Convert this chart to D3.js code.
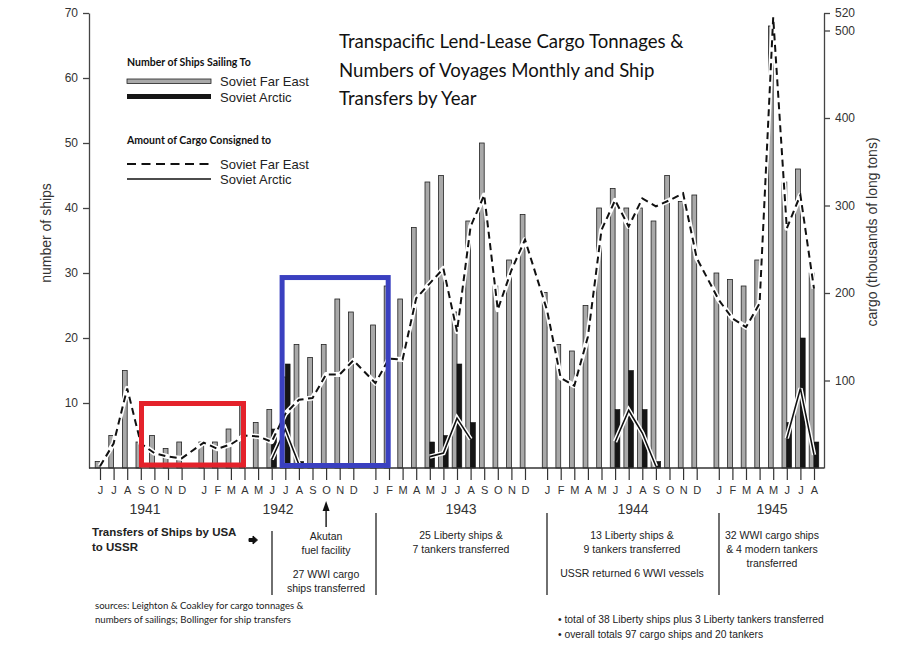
<!DOCTYPE html>
<html><head><meta charset="utf-8">
<script src="https://cdn.jsdelivr.net/npm/d3@7"></script>
<style>body{margin:0;background:#fff}svg{display:block}</style>
</head><body>
<svg id="c" width="897" height="653"></svg>
<script>
// ---------- DATA (Jun 1941 .. Aug 1945, one entry per month) ----------
const monthLetters = ["J","F","M","A","M","J","J","A","S","O","N","D"];
const firstYear = 1941, firstMonth = 5; // June
const farEastShips = [1,5,15,4,5,3,4,
  4,4,6,10,7,9,14,19,17,19,26,24,
  22,28,26,37,44,45,24,38,50,28,32,39,
  27,19,18,25,40,43,40,40,38,45,41,42,
  30,29,28,32,68,44,46,30];
const arcticShips = [0,0,0,0,0,0,0,
  0,0,0,0,0,6,16,1,0,0,0,0,
  0,0,0,0,4,5,16,7,0,0,0,0,
  0,0,0,0,0,9,15,9,1,0,0,0,
  0,0,0,0,0,7,20,4];
const farEastCargo = [2,28,91,28,17,13,11,
  29,22,27,37,36,30,62,78,80,107,107,123,
  97,125,124,194,211,228,156,276,312,181,226,261,
  180,103,94,150,272,306,276,308,299,306,314,240,
  192,171,161,188,515,274,312,205];
const arcticCargo = [null,null,null,null,null,null,null,
  null,null,null,null,null,10,44,4,null,null,null,null,
  null,null,null,null,13,17,57,33,null,null,null,null,
  null,null,null,null,null,30,66,40,2,null,null,null,
  null,null,null,null,null,34,91,15];
const leftTicks = [10,20,30,40,50,60,70];
const rightTicks = [100,200,300,400,500,520];
const yearLabels = ["1941","1942","1943","1944","1945"];

// ---------- SETUP ----------
const months = farEastShips.map((v,i)=>{
  const t = firstMonth + i;
  return {i, year: firstYear + Math.floor(t/12), m: t%12};
});
const pos = d => d.i + 0.625*(d.year - firstYear);
const svg = d3.select("#c");
const x = d3.scaleLinear().domain([0,52.5]).range([100,814]);
const yL = d3.scaleLinear().domain([0,70]).range([468,13]);
const yR = d3.scaleLinear().domain([0,520]).range([468,13]);
const SANS = "'Liberation Sans', Arial, Helvetica, sans-serif";
const CAL = "Lato, 'Open Sans', sans-serif";

// ---------- BARS ----------
const bw = 4.8;
svg.append("g").selectAll("rect").data(months).join("rect")
  .attr("x", d=>x(pos(d))-bw).attr("width", bw)
  .attr("y", d=>yL(farEastShips[d.i])).attr("height", d=>yL(0)-yL(farEastShips[d.i]))
  .attr("fill","#a9a9a9").attr("stroke","#222").attr("stroke-width",0.8);
svg.append("g").selectAll("rect").data(months.filter(d=>arcticShips[d.i]>0)).join("rect")
  .attr("x", d=>x(pos(d))).attr("width", bw)
  .attr("y", d=>yL(arcticShips[d.i])).attr("height", d=>yL(0)-yL(arcticShips[d.i]))
  .attr("fill","#151515").attr("stroke","#111").attr("stroke-width",0.6);

// ---------- LINES ----------
const feLine = d3.line().x(d=>x(pos(d))).y(d=>yR(farEastCargo[d.i]));
svg.append("path").attr("d", feLine(months)).attr("fill","none")
  .attr("stroke","#fff").attr("stroke-width",5).attr("stroke-linejoin","round");
svg.append("path").attr("d", feLine(months)).attr("fill","none")
  .attr("stroke","#111").attr("stroke-width",2).attr("stroke-dasharray","7,4.5");
const arLine = d3.line().defined(d=>arcticCargo[d.i]!=null)
  .x(d=>x(pos(d))).y(d=>yR(arcticCargo[d.i]));
svg.append("path").attr("d", arLine(months)).attr("fill","none")
  .attr("stroke","#fff").attr("stroke-width",4.5).attr("stroke-linejoin","miter");
svg.append("path").attr("d", arLine(months)).attr("fill","none")
  .attr("stroke","#111").attr("stroke-width",1.6);

// ---------- AXES ----------
const axL = svg.append("g").attr("transform","translate(89,0)")
  .call(d3.axisLeft(yL).tickValues(leftTicks).tickSize(6).tickSizeOuter(0).tickPadding(5));
const axR = svg.append("g").attr("transform","translate(824,0)")
  .call(d3.axisRight(yR).tickValues(rightTicks).tickSize(6).tickSizeOuter(0).tickPadding(5));
[axL,axR].forEach(a=>{
  a.selectAll("path,line").attr("stroke","#444").attr("stroke-width",1.3);
  a.selectAll("text").attr("font-family",SANS).attr("font-size",12).attr("fill","#333");
});
svg.append("line").attr("x1",89).attr("x2",824).attr("y1",yL(0)).attr("y2",yL(0))
  .attr("stroke","#333").attr("stroke-width",1.4);
const axB = svg.append("g").attr("transform",`translate(0,${yL(0)})`)
  .call(d3.axisBottom(x).tickValues(months.map(pos)).tickSize(12).tickSizeOuter(0).tickPadding(6)
    .tickFormat((v,k)=>monthLetters[months[k].m]));
axB.select(".domain").remove();
axB.selectAll("line").attr("stroke","#333").attr("stroke-width",1.2);
axB.selectAll("text").attr("font-family",SANS).attr("font-size",11).attr("fill","#333");

svg.append("text").attr("transform","translate(51,233) rotate(-90)").attr("text-anchor","middle")
  .attr("font-family",SANS).attr("font-size",14).attr("fill","#333").text("number of ships");
svg.append("text").attr("transform","translate(877,232) rotate(-90)").attr("text-anchor","middle")
  .attr("font-family",SANS).attr("font-size",14).attr("fill","#333").text("cargo (thousands of long tons)");

// year labels
const yearX = [145,278,461,633,772];
svg.append("g").selectAll("text").data(yearLabels).join("text")
  .attr("x",(d,i)=>yearX[i]).attr("y",514).attr("text-anchor","middle")
  .attr("font-family",SANS).attr("font-size",14).attr("fill","#333").text(d=>d);

// ---------- HIGHLIGHT BOXES ----------
svg.append("rect").attr("x",x(pos(months[3]))+0.7).attr("y",yL(10)+0.5)
  .attr("width",x(pos(months[10]))-x(pos(months[3]))-1.7).attr("height",yL(0)-yL(10)-3.5)
  .attr("fill","none").attr("stroke","#e4222b").attr("stroke-width",5);
svg.append("rect").attr("x",x(pos(months[13]))-3.2).attr("y",yL(29.3))
  .attr("width",x(pos(months[20]))-x(pos(months[13]))+2.4).attr("height",yL(0)-yL(29.3)-2.5)
  .attr("fill","none").attr("stroke","#3a40c0").attr("stroke-width",5);

// ---------- TITLE ----------
const title = ["Transpacific Lend-Lease Cargo Tonnages &","Numbers of Voyages Monthly and Ship","Transfers by Year"];
svg.append("g").selectAll("text").data(title).join("text")
  .attr("x",339).attr("y",(d,i)=>48+i*28.5).attr("font-family",CAL).attr("font-size",18.6)
  .attr("fill","#111").text(d=>d);

// ---------- LEGEND ----------
const lg = svg.append("g");
lg.append("text").attr("x",127).attr("y",66).attr("font-family",CAL).attr("font-weight","bold")
  .attr("font-size",10.5).attr("fill","#111").text("Number of Ships Sailing To");
lg.append("rect").attr("x",127).attr("y",79).attr("width",84).attr("height",4.5)
  .attr("fill","#a9a9a9").attr("stroke","#222").attr("stroke-width",0.8);
lg.append("rect").attr("x",127).attr("y",94).attr("width",84).attr("height",5)
  .attr("fill","#151515");
lg.append("text").attr("x",127).attr("y",144).attr("font-family",CAL).attr("font-weight","bold")
  .attr("font-size",10.5).attr("fill","#111").text("Amount of Cargo Consigned to");
lg.append("line").attr("x1",127).attr("x2",211).attr("y1",164).attr("y2",164)
  .attr("stroke","#111").attr("stroke-width",2).attr("stroke-dasharray","9,5.5");
lg.append("line").attr("x1",127).attr("x2",211).attr("y1",179).attr("y2",179)
  .attr("stroke","#111").attr("stroke-width",1.6);
[["Soviet Far East",85.5],["Soviet Arctic",101.5],["Soviet Far East",168.5],["Soviet Arctic",183.5]]
  .forEach(([t,yy])=>lg.append("text").attr("x",220).attr("y",yy).attr("font-family",SANS)
    .attr("font-size",13).attr("fill","#222").text(t));

// ---------- BOTTOM ANNOTATIONS ----------
const an = svg.append("g").attr("font-family",SANS).attr("fill","#222");
an.append("text").attr("x",92).attr("y",536).attr("font-weight","bold").attr("font-size",11.5).text("Transfers of Ships by USA");
an.append("text").attr("x",92).attr("y",551).attr("font-weight","bold").attr("font-size",11.5).text("to USSR");
// small right arrow
an.append("path").attr("d","M249,538.5 h4 v-2.5 l4.5,4 l-4.5,4 v-2.5 h-4 z")
  .attr("fill","#111").attr("stroke","#111").attr("stroke-width",1);
// separators
[[272,531,595],[376,513,595],[547,513,595],[719,513,595]].forEach(([lx,a,b])=>
  an.append("line").attr("x1",lx).attr("x2",lx).attr("y1",a).attr("y2",b).attr("stroke","#333").attr("stroke-width",1.4));
// up arrow at Akutan
const ax = x(pos(months[16]));
an.append("line").attr("x1",ax).attr("x2",ax).attr("y1",527).attr("y2",508).attr("stroke","#111").attr("stroke-width",1.4);
an.append("path").attr("d",`M${ax},501 L${ax-3.5},511 L${ax+3.5},511 Z`).attr("fill","#111");
const blocks = [
  [326,[["Akutan",540],["fuel facility",554],["27 WWI cargo",578],["ships transferred",592]]],
  [461,[["25 Liberty ships &",539],["7 tankers transferred",553]]],
  [632,[["13 Liberty ships &",539],["9 tankers transferred",553],["USSR returned 6 WWI vessels",577]]],
  [772,[["32 WWI cargo ships",539],["& 4 modern tankers",553],["transferred",567]]]
];
blocks.forEach(([cx,lines])=>lines.forEach(([t,yy])=>
  an.append("text").attr("x",cx).attr("y",yy).attr("text-anchor","middle").attr("font-size",10.5).text(t)));
an.append("text").attr("x",558).attr("y",623).attr("font-size",10.3).text("• total of 38 Liberty ships plus 3 Liberty tankers transferred");
an.append("text").attr("x",558).attr("y",638).attr("font-size",10.3).text("• overall totals 97 cargo ships and 20 tankers");
const src = svg.append("g").attr("font-family",CAL).attr("font-size",9.6).attr("fill","#222");
src.append("text").attr("x",95).attr("y",609).text("sources: Leighton & Coakley for cargo tonnages &");
src.append("text").attr("x",95).attr("y",623).text("numbers of sailings; Bollinger for ship transfers");
</script>
</body></html>
